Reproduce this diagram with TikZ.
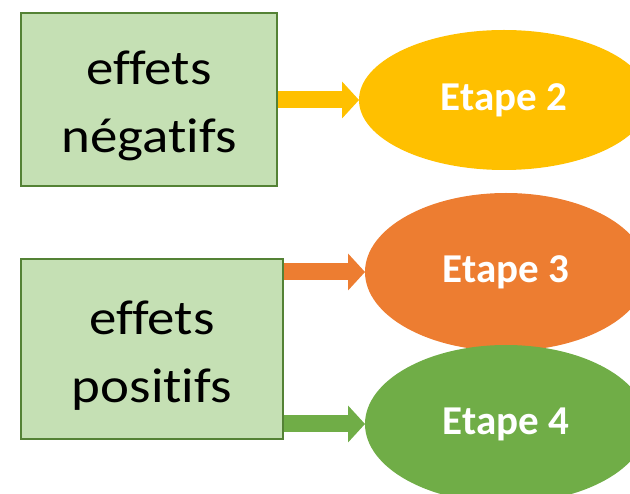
\documentclass[tikz,border=0pt]{standalone}
\usepackage{fontspec}
\setmainfont[Ligatures=NoCommon]{Carlito}
\usepackage{tikz}
\usetikzlibrary{arrows.meta,shapes.geometric}

\definecolor{boxfill}{HTML}{C5E0B4}
\definecolor{boxline}{HTML}{548235}
\definecolor{jaune}{HTML}{FFC000}
\definecolor{orange}{HTML}{ED7D31}
\definecolor{vert}{HTML}{70AD47}

\newcommand{\etir}[1]{\scalebox{1.12}[1]{#1}}

\begin{document}
\begin{tikzpicture}[x=1pt,y=-1pt,line width=17pt,-{Triangle[width=37pt 0 0,length=17pt 0 0,line width=0pt]}] \tikzstyle{effet}=[draw=boxline,fill=boxfill,line width=2pt,align=center,inner sep=0pt,text height=119pt,text depth=12pt,font=\fontsize{49}{68}\selectfont] \tikzstyle{etape}=[ellipse,draw=none,text=white,inner sep=0pt,outer sep=0pt,font=\fontsize{41}{48}\selectfont\bfseries]

  \useasboundingbox (0,0) rectangle (630,494);
  \clip (0,0) rectangle (630,494);

  \node[effet,minimum width=256pt,minimum height=173pt] (n) at (149,99.5) {\etir{effets}\\\etir{négatifs}};
  \node[effet,minimum width=262pt,minimum height=180pt] (p) at (152,349) {\etir{effets}\\\etir{positifs}};

  \node[etape,fill=jaune,minimum width=290pt,minimum height=140pt]  (2) at (504,100) {Etape 2};
  \node[etape,fill=orange,minimum width=282pt,minimum height=158pt] (3) at (506,272) {Etape 3};
  \node[etape,fill=vert,minimum width=282pt,minimum height=158pt]   (4) at (506,424) {Etape 4};

  \draw[jaune]  (n.east |- 2.west) -- (2.west);
  \draw[orange] (p.east |- 3.west) -- (3.west);
  \draw[vert]   (p.east |- 4.west) -- (4.west);
\end{tikzpicture}
\end{document}
